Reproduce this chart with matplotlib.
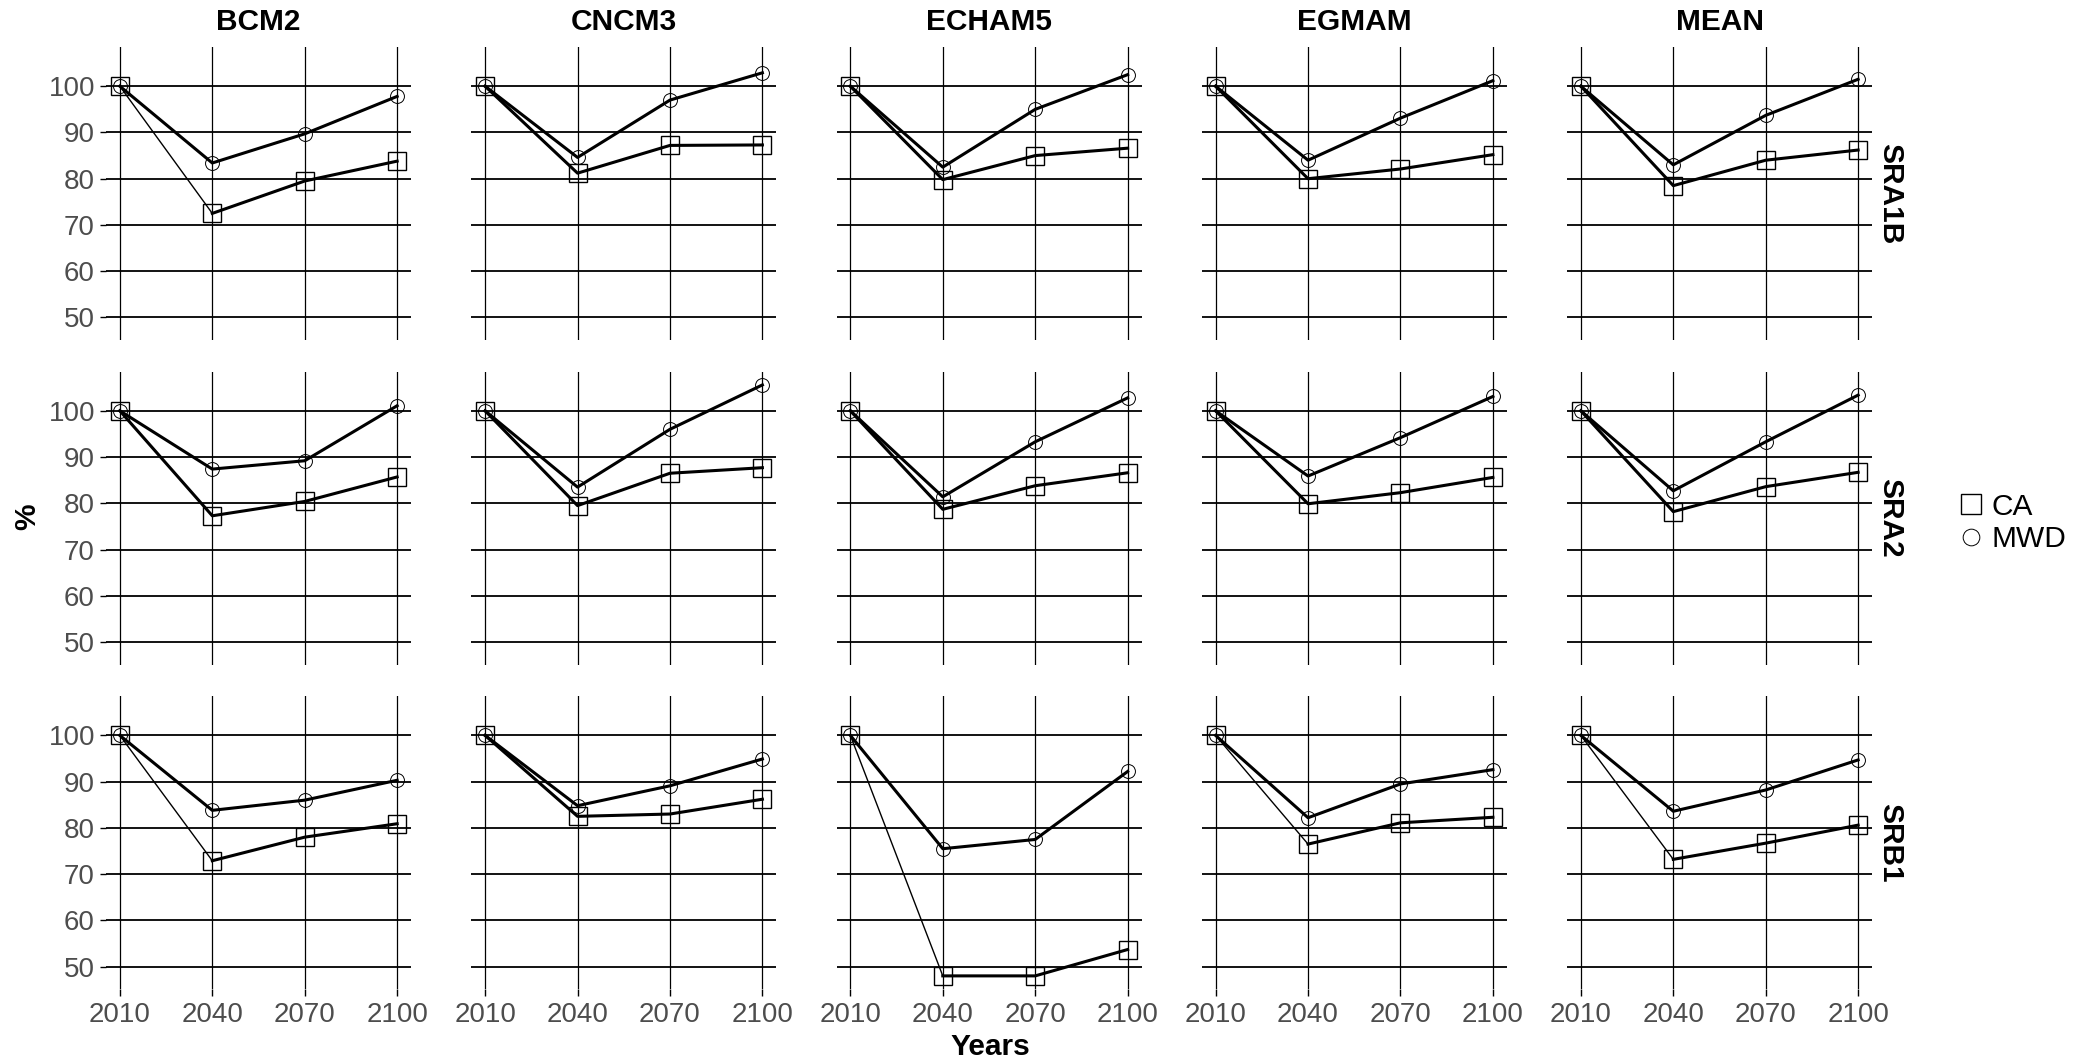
import matplotlib
matplotlib.use("Agg")
import matplotlib.pyplot as plt
from matplotlib.lines import Line2D

plt.rcParams['font.family'] = ['Liberation Sans', 'DejaVu Sans']

years = [2010, 2040, 2070, 2100]
models = ['BCM2', 'CNCM3', 'ECHAM5', 'EGMAM', 'MEAN']
scenarios = ['SRA1B', 'SRA2', 'SRB1']

# rows follow the order of models
ca_sra1b = [[100, 72.5, 79.5, 83.8],
            [100, 81.2, 87.2, 87.3],
            [100, 79.8, 85.0, 86.6],
            [100, 80.0, 82.1, 85.2],
            [100, 78.5, 84.0, 86.2]]
mwd_sra1b = [[100, 83.4, 89.7, 97.8],
             [100, 84.6, 97.0, 102.9],
             [100, 82.5, 95.0, 102.5],
             [100, 84.0, 93.1, 101.2],
             [100, 83.0, 93.7, 101.5]]
ca_sra2 = [[100, 77.3, 80.4, 85.7],
           [100, 79.5, 86.5, 87.7],
           [100, 78.7, 83.8, 86.6],
           [100, 79.9, 82.3, 85.6],
           [100, 78.2, 83.6, 86.7]]
mwd_sra2 = [[100, 87.4, 89.2, 101.1],
            [100, 83.5, 96.0, 105.6],
            [100, 81.4, 93.3, 102.8],
            [100, 85.9, 94.2, 103.1],
            [100, 82.7, 93.3, 103.4]]
ca_srb1 = [[100, 72.9, 78.0, 80.9],
           [100, 82.5, 83.0, 86.2],
           [100, 48.0, 48.0, 53.7],
           [100, 76.5, 81.1, 82.3],
           [100, 73.2, 76.7, 80.6]]
mwd_srb1 = [[100, 83.8, 86.0, 90.3],
            [100, 84.8, 89.1, 94.9],
            [100, 75.5, 77.5, 92.2],
            [100, 82.2, 89.5, 92.6],
            [100, 83.6, 88.2, 94.7]]

ca_all = [ca_sra1b, ca_sra2, ca_srb1]
mwd_all = [mwd_sra1b, mwd_sra2, mwd_srb1]

# panels where the first CA segment is drawn thin
thin_first = {(0, 0), (2, 0), (2, 2), (2, 3), (2, 4)}

W, H = 2099, 1064
fig = plt.figure(figsize=(W / 100, H / 100), dpi=100)

allv = [v for grp in ca_all + mwd_all for row in grp for v in row]
lo, hi = min(allv), max(allv)
pad = (hi - lo) * 0.05
ylim = (lo - pad, hi + pad)
xlim = (2010 - 4.5, 2100 + 4.5)

tick_col = '#4D4D4D'

for r, scen in enumerate(scenarios):
    for c, mod in enumerate(models):
        left = 106 + 365.25 * c
        top = 47 + 324.6 * r
        ax = fig.add_axes([left / W, 1 - (top + 293) / H, 305 / W, 293 / H])
        ax.set_xlim(*xlim)
        ax.set_ylim(*ylim)
        ax.set_xticks(years)
        ax.set_yticks([50, 60, 70, 80, 90, 100])
        for s in ax.spines.values():
            s.set_visible(False)
        for y in [50, 60, 70, 80, 90, 100]:
            ax.axhline(y, color='black', lw=1.3, zorder=1)
        for x in years:
            ax.axvline(x, color='black', lw=0.9, zorder=1)

        ca = ca_all[r][c]
        mwd = mwd_all[r][c]
        ax.plot(years, mwd, color='black', lw=2.2, zorder=3)
        if (r, c) in thin_first:
            ax.plot(years[:2], ca[:2], color='black', lw=1.0, zorder=3)
            ax.plot(years[1:], ca[1:], color='black', lw=2.2, zorder=3)
        else:
            ax.plot(years, ca, color='black', lw=2.2, zorder=3)
        ax.plot(years, mwd, ls='none', marker='o', ms=10, mfc='none',
                mec='black', mew=0.7, zorder=4)
        ax.plot(years, ca, ls='none', marker='s', ms=13, mfc='none',
                mec='black', mew=1.0, zorder=4)

        ax.tick_params(axis='both', colors='black', labelcolor=tick_col,
                       labelsize=20, width=1.0)
        if c == 0:
            ax.tick_params(axis='y', length=4, pad=4)
        else:
            ax.tick_params(axis='y', length=0, labelleft=False)
        if r == 2:
            ax.tick_params(axis='x', length=5, pad=4)
        else:
            ax.tick_params(axis='x', length=0, labelbottom=False)

        if r == 0:
            ax.set_title(mod, fontsize=21.5, fontweight='bold', pad=12)
        if c == 4:
            ax.text(1.06, 0.5, scen, transform=ax.transAxes, rotation=-90,
                    fontsize=21.5, fontweight='bold', ha='center', va='center')

fig.text(27 / W, 1 - 517 / H, '%', rotation=90, fontsize=21.5,
         fontweight='bold', ha='center', va='center')
fig.text(990 / W, 1 - 1047 / H, 'Years', fontsize=21.5,
         fontweight='bold', ha='center', va='center')

handles = [Line2D([], [], ls='none', marker='s', ms=14, mfc='none', mec='black', mew=1.0),
           Line2D([], [], ls='none', marker='o', ms=12, mfc='none', mec='black', mew=0.7)]
fig.legend(handles, ['CA', 'MWD'], loc='center left',
           bbox_to_anchor=(1953 / W, 1 - 523 / H), frameon=False,
           fontsize=21.5, handletextpad=0.1, labelspacing=0.15,
           handlelength=1.2, borderpad=0, borderaxespad=0)

fig.savefig('out.png', dpi=100)
